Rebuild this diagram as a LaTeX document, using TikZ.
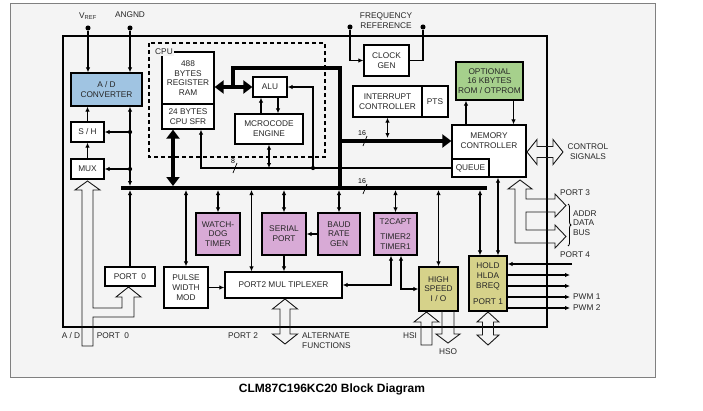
\documentclass[tikz,border=0pt]{standalone}
\usepackage{fontspec}
\setmainfont{Liberation Sans}
\usetikzlibrary{positioning,arrows.meta,decorations.pathreplacing}

\definecolor{adblue}{RGB}{160,196,226}
\definecolor{romgreen}{RGB}{166,208,140}
\definecolor{perpink}{RGB}{216,170,214}
\definecolor{ioolive}{RGB}{214,210,138}
\definecolor{panel}{RGB}{244,244,244}

\newcommand\blkfont{\fontsize{8.3}{9.8}\selectfont}

\tikzset{
  blk/.style={draw, line width=1.3pt, fill=white, align=center, inner sep=0pt, font=\blkfont, text=black!85},
  txt/.style={font=\blkfont, align=center, inner sep=1pt, text=black!85},
  sig/.style={line width=1.2pt, -{Latex[length=5pt,width=4.5pt]}},
  sigb/.style={line width=1.2pt, {Latex[length=5pt,width=4.5pt]}-{Latex[length=5pt,width=4.5pt]}},
  fat/.style={line width=4pt},
  fatarr/.style={line width=4pt, -{Triangle[length=9pt,width=13pt]}},
  fatarrb/.style={line width=4pt, {Triangle[length=9pt,width=13pt]}-{Triangle[length=9pt,width=13pt]}},
  hollow/.style={draw=black!90, line width=0.9pt},
  dotpt/.style={circle, fill, inner sep=1.8pt},
  jdot/.style={circle, fill, inner sep=1.5pt},
}

\begin{document}
\begin{tikzpicture}[x=1pt,y=-1pt]
        \useasboundingbox (0,0) rectangle (703,410);
        \draw[gray, fill=panel] (10,3) rectangle (655,377);
        \draw[line width=1.1pt] (63,36) rectangle (547,327);
        \draw[line width=1.2pt, dash pattern=on 4pt off 3pt] (149,43) rectangle (325,157);

        % pins
        \node[dotpt] (vref) at (88,28) {};
        \node[dotpt] (angnd) at (130,28) {};
        \node[dotpt] (fr1) at (350,27) {};
        \node[dotpt] (fr2) at (423,27) {};
        \node[txt] (vreflbl) at (88,16) {V\textsubscript{REF}};
        \node[txt] (angndlbl) at (130,15) {ANGND};
        \node[txt] (frlbl) at (386,21) {FREQUENCY\\REFERENCE};

        % blocks
        \node[blk, fill=adblue, minimum width=71pt, minimum height=33pt] (ad) at (106.5,89.5) {A / D\\CONVERTER};
        \node[blk, minimum width=33pt, minimum height=20pt] (sh) at (87.5,132) {S / H};
        \node[blk, minimum width=33pt, minimum height=20pt] (mux) at (87.5,169) {MUX};
        \node[blk, minimum width=52pt, minimum height=52pt] (ram) at (188,78) {488\\BYTES\\REGISTER\\RAM};
        \node[blk, minimum width=52pt, minimum height=25pt] (sfr) at (188,116.5) {24 BYTES\\CPU SFR};
        \node[txt, fill=panel, inner sep=1.5pt] (cpulbl) at (164,52) {CPU};
        \node[blk, minimum width=34pt, minimum height=20pt] (alu) at (270,87) {ALU};
        \node[blk, minimum width=68pt, minimum height=30pt] (mce) at (269,129) {MCROCODE\\ENGINE};
        \node[blk, minimum width=45pt, minimum height=31pt] (clk) at (386.5,60.5) {CLOCK\\GEN};
        \node[blk, minimum width=69pt, minimum height=31pt] (intc) at (387.5,101.5) {INTERRUPT\\CONTROLLER};
        \node[blk, minimum width=26pt, minimum height=31pt] (pts) at (435,101.5) {PTS};
        \node[blk, fill=romgreen, minimum width=67pt, minimum height=38pt] (rom) at (489.5,81) {OPTIONAL\\16 KBYTES\\ROM / OTPROM};
        \node[blk, minimum width=74pt, minimum height=52pt] (mem) at (489,151) {};
        \node[txt] (memlbl) at (489,141) {MEMORY\\CONTROLLER};
        \node[blk, minimum width=37pt, minimum height=18pt] (queue) at (470.5,168) {QUEUE};

        \node[blk, fill=perpink, minimum width=44pt, minimum height=42pt] (wd) at (218,234) {WATCH-\\DOG\\TIMER};
        \node[blk, fill=perpink, minimum width=44pt, minimum height=42pt] (ser) at (284,234) {SERIAL\\PORT};
        \node[blk, fill=perpink, minimum width=42pt, minimum height=42pt] (baud) at (339,234) {BAUD\\RATE\\GEN};
        \node[blk, fill=perpink, minimum width=43pt, minimum height=42pt] (tmr) at (395.5,234) {T2CAPT\\[5pt]TIMER2\\TIMER1};
        \node[blk, minimum width=50pt, minimum height=19pt] (p0) at (130,276.5) {PORT\ \ 0};
        \node[blk, minimum width=44pt, minimum height=41pt] (pwm) at (186,287.5) {PULSE\\WIDTH\\MOD};
        \node[blk, minimum width=117pt, minimum height=26pt] (p2m) at (283.5,285) {PORT2 MUL TIPLEXER};
        \node[blk, fill=ioolive, minimum width=39pt, minimum height=44pt] (hsio) at (438.5,289) {HIGH\\SPEED\\I / O};
        \node[blk, fill=ioolive, minimum width=38pt, minimum height=55pt] (hold) at (488,283.5) {HOLD\\HLDA\\BREQ\\[6pt]PORT 1};

        % internal bus
        \coordinate (busL) at (121,188);
        \coordinate (busR) at (487,188);
        \coordinate (busT) at (121,186);
        \coordinate (busB) at (121,190);
        \draw[fat] (busL) -- (busR);
        \coordinate (ramalu) at (233,87);
        \coordinate (cpubend) at (340,68);
        \coordinate (cpu16) at (340,141);
        \draw[fat] (ramalu) |- (cpubend) -- (cpubend |- busL);
        \draw[fatarrb] (ram.east |- alu.west) -- (alu.west);
        \draw[fatarr] (cpu16) -- (cpu16 -| mem.west);
        \draw[fatarrb] ([xshift=-15pt]sfr.south) -- ([xshift=-15pt]sfr.south |- busT);

        % width marks
        \node[font=\fontsize{7}{8}\selectfont] (w16a) at (362,133) {16};
        \draw[line width=0.7pt] (363,146) -- (367,136);
        \node[font=\fontsize{7}{8}\selectfont] (w16b) at (362,181) {16};
        \draw[line width=0.7pt] (363,194) -- (367,184);
        \node[font=\fontsize{7}{8}\selectfont] (w8) at (233,161) {8};
        \draw[line width=0.7pt] (233,173) -- (237,163);

        % analog side
        \draw[sig] (vref) -- (vref |- ad.north);
        \draw[sig] (angnd) -- (angnd |- ad.north);
        \draw[sigb] (angnd |- ad.south) -- (angnd |- busT);
        \node[jdot] (jsh) at (angnd |- sh.east) {};
        \node[jdot] (jmux) at (angnd |- mux.east) {};
        \draw[sig] (jsh.center) -- (sh.east);
        \draw[sig] (jmux.center) -- (mux.east);
        \draw[sig] (sh.north) -- (sh.north |- ad.south);
        \draw[sig] (mux.north) -- (mux.north |- sh.south);
        \draw[sig] (p0.north) -- (p0.north |- busB);

        % cpu wiring
        \node[jdot] (dotA) at (313,168) {};
        \draw[sig] (queue.west) -| ([xshift=13pt]sfr.south);
        \draw[sig] (dotA.center) |- (alu.east);
        \draw[sigb] (mce.south) -- (mce.south |- queue.west);
        \draw[sig] ([xshift=8pt]alu.south) -- ([xshift=8pt]alu.south |- mce.north);
        \draw[sig] ([xshift=-8pt]mce.north) -- ([xshift=-8pt]mce.north |- alu.south);
        \draw[sigb] (intc.south) -- ([yshift=3pt]intc.south |- cpu16);
        \draw[sig] ([xshift=-23pt]mem.north) -- ([xshift=-23pt]mem.north |- rom.south);
        \draw[sig] ([xshift=24pt]rom.south) -- ([xshift=24pt]rom.south |- mem.north);
        \draw[sig] (fr1) |- (clk.west);
        \draw[line width=1.2pt] (fr2) |- (clk.east);

        % bus taps
        \draw[sigb] (pwm.north |- busB) -- (pwm.north);
        \draw[sigb] (wd.north |- busB) -- (wd.north);
        \draw[sigb] ([xshift=-32pt]p2m.north |- busB) -- ([xshift=-32pt]p2m.north);
        \draw[sigb] (ser.north |- busB) -- (ser.north);
        \draw[sigb] (baud.north |- busB) -- (baud.north);
        \draw[sigb] (tmr.north |- busB) -- (tmr.north);
        \draw[sigb] (hsio.north |- busB) -- (hsio.north);
        \draw[sigb] ([xshift=-8pt]hold.north |- busB) -- ([xshift=-8pt]hold.north);
        \draw[sigb] ([xshift=10pt]hold.north) -- ([xshift=10pt]hold.north |- mem.south);

        % peripherals
        \draw[sig] (baud.west) -- (ser.east);
        \draw[sig] (ser.south) -- (ser.south |- p2m.north);
        \draw[sig] (pwm.east) -- (pwm.east -| p2m.west);
        \draw[sigb] (p2m.east) -| ([xshift=-4.5pt]tmr.south);
        \draw[sigb] ([xshift=5.5pt]tmr.south) |- (hsio.west);

        % port 1 lines
        \coordinate (o1) at (572,264);
        \coordinate (o2) at (570,275);
        \coordinate (o3) at (570,286);
        \coordinate (o4) at (570,297);
        \coordinate (o5) at (570,308);
        \draw[sig] (o1) -- (o1 -| hold.east);
        \draw[sig] (hold.east |- o2) -- (o2);
        \draw[sig] (hold.east |- o3) -- (o3);
        \draw[sig] (hold.east |- o4) -- (o4);
        \draw[sig] (hold.east |- o5) -- (o5);
        \node[txt, right=2pt of o4] (pwm1) {PWM 1};
        \node[txt, right=2pt of o5] (pwm2) {PWM 2};

        % wide buses
        \draw[hollow] (82,190) -- (75,190) -- (87.5,181) -- (100,190) -- (93,190) -- (93,308) -- (122,308) -- (122,297) -- (116,297) -- (128.5,287) -- (141,297) -- (134,297) -- (134,317) -- (93,317) -- (93,346) -- (82,346) -- cycle;
        \draw[hollow] (285,299) -- (297.5,309) -- (290,309) -- (290,334) -- (297.5,334) -- (285,344) -- (272.5,334) -- (280,334) -- (280,309) -- (272.5,309) -- cycle;
        \draw[hollow] (426.5,312) -- (439,322) -- (432,322) -- (432,345) -- (421,345) -- (421,322) -- (414,322) -- cycle;
        \draw[hollow] (442,311) -- (442,334) -- (436,334) -- (448,343) -- (460,334) -- (454,334) -- (454,311);
        \draw[hollow] (488,312) -- (499,322) -- (493.5,322) -- (493.5,335) -- (499,335) -- (488,345) -- (477,335) -- (482.5,335) -- (482.5,322) -- (477,322) -- cycle;
        \draw[hollow] (527,152) -- (537,139.5) -- (537,146.5) -- (553,146.5) -- (553,139.5) -- (563,152) -- (553,164.5) -- (553,157.5) -- (537,157.5) -- (537,164.5) -- cycle;
        \draw[hollow] (515,189) -- (508,189) -- (520,180) -- (532,189) -- (526,189) -- (526,199) -- (555,199) -- (555,194) -- (566,205.5) -- (555,217) -- (555,212) -- (526,212) -- (526,230) -- (555,230) -- (555,225) -- (566,236.5) -- (555,248) -- (555,243) -- (515,243) -- cycle;
        \draw[line width=0.8pt, decorate, decoration={brace, amplitude=3pt}] (568,204) -- (568,246);

        % outside labels
        \node[txt] (ctl) at (588,152) {CONTROL\\SIGNALS};
        \node[txt, anchor=west] (p3lbl) at (559,193) {PORT 3};
        \node[txt, anchor=west, align=left] (adb) at (572,223) {ADDR\\DATA\\BUS};
        \node[txt, anchor=west] (p4lbl) at (559,255) {PORT 4};
        \node[txt] (adlbl) at (71,336) {A / D};
        \node[txt] (p0lbl) at (113,336) {PORT\ \ 0};
        \node[txt] (p2lbl) at (243,336) {PORT 2};
        \node[txt, anchor=west, align=left] (alt) at (301,341) {ALTERNATE\\FUNCTIONS};
        \node[txt] (hsilbl) at (410,336) {HSI};
        \node[txt] (hsolbl) at (448,352) {HSO};

        \node[font=\bfseries\fontsize{12}{14}\selectfont] (title) at (332,389) {CLM87C196KC20 Block Diagram};
      \end{tikzpicture}
\end{document}
